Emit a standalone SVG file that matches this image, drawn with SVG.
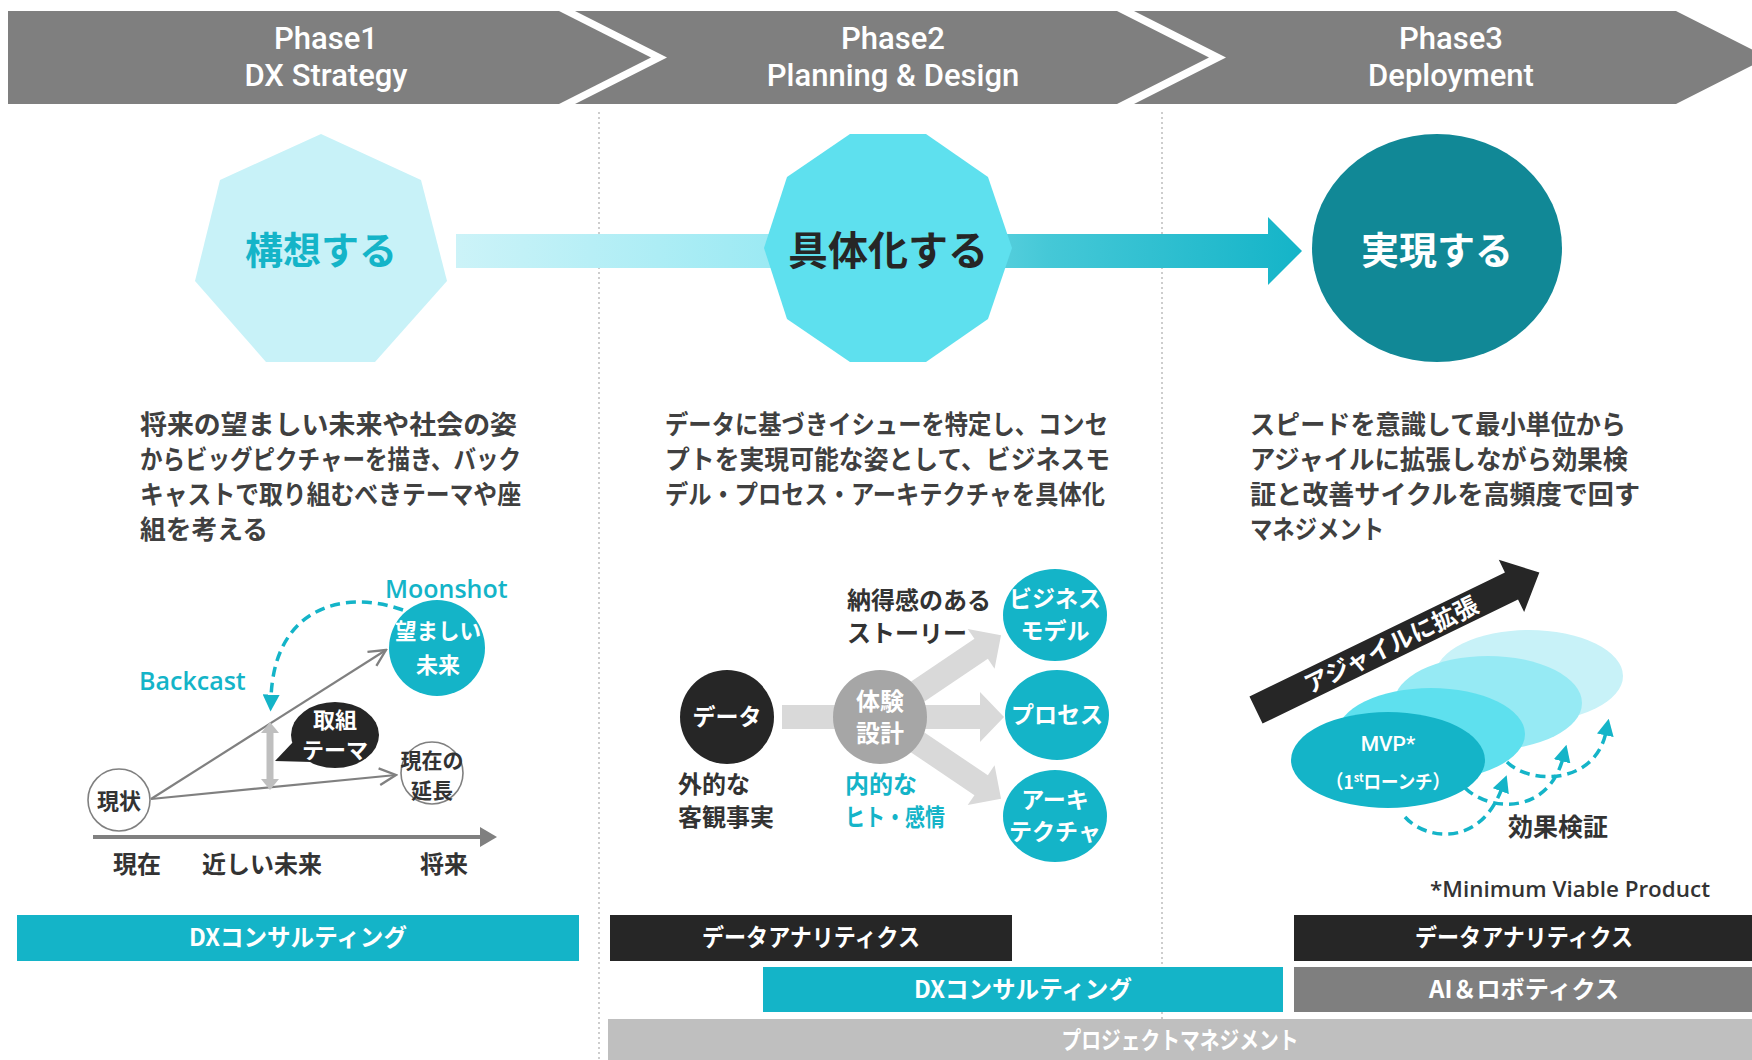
<svg xmlns="http://www.w3.org/2000/svg" width="1752" height="1060" viewBox="0 0 1752 1060">
<defs>
<style>
.hd{font-family:Roboto,"Liberation Sans",sans-serif;font-size:31px;font-weight:500;fill:#fff;text-anchor:middle}
.jp{font-family:"Noto Sans CJK JP",sans-serif;font-weight:bold}
.lat{font-family:"Open Sans","Noto Sans",sans-serif;font-weight:600}
.rb{font-family:Roboto,"Liberation Sans",sans-serif;font-weight:500}
.desc{font-size:26px;fill:#404040}
.dk{fill:#333}
.wt{fill:#fff}
.tl{fill:#14B4C8}
.mid{text-anchor:middle}
.divl{stroke:#BDBDBD;stroke-width:1.5;stroke-dasharray:2 3}
.gline{stroke:#808080;stroke-width:2.2;fill:none}
.dash{stroke:#14B4C8;stroke-width:3.5;fill:none;stroke-dasharray:10 6}
.bar{font-size:24px}
</style>
<linearGradient id="flow" x1="456" y1="0" x2="1302" y2="0" gradientUnits="userSpaceOnUse">
<stop offset="0" stop-color="#CCF3F8"/>
<stop offset="0.4" stop-color="#98E9F3"/>
<stop offset="0.7" stop-color="#45C8D7"/>
<stop offset="1" stop-color="#14B4C8"/>
</linearGradient>
<marker id="vhead" markerUnits="userSpaceOnUse" markerWidth="20" markerHeight="20" viewBox="0 0 12 12" refX="11" refY="6" orient="auto">
<path d="M1,1 L11,6 L1,11" fill="none" stroke="#808080" stroke-width="1.4"/>
</marker>
<marker id="thead" markerUnits="userSpaceOnUse" markerWidth="17" markerHeight="17" viewBox="0 0 10 10" refX="2" refY="5" orient="auto">
<path d="M0,0 L10,5 L0,10 z" fill="#14B4C8"/>
</marker>
</defs>

<rect width="1752" height="1060" fill="#fff"/>

<g id="dividers">
<line class="divl" x1="599" y1="112" x2="599" y2="1060"/>
<line class="divl" x1="1162" y1="112" x2="1162" y2="1060"/>
</g>

<g id="phase1-header">
<polygon points="8,11 559,11 651,57.5 559,104 8,104" fill="#7F7F7F"/>
<text class="hd" x="326" y="49">Phase1</text>
<text class="hd" x="326" y="86">DX Strategy</text>
</g>
<g id="phase2-header">
<polygon points="575,11 1117,11 1209,57.5 1117,104 575,104 667,57.5" fill="#7F7F7F"/>
<text class="hd" x="893" y="49">Phase2</text>
<text class="hd" x="893" y="86">Planning &amp; Design</text>
</g>
<g id="phase3-header">
<polygon points="1134,11 1676,11 1768,57.5 1676,104 1134,104 1226,57.5" fill="#7F7F7F"/>
<text class="hd" x="1451" y="49">Phase3</text>
<text class="hd" x="1451" y="86">Deployment</text>
</g>

<g id="connectors">
<polygon points="456,234 1268,234 1268,217 1302,251 1268,285 1268,268 456,268" fill="url(#flow)"/>
<line x1="93" y1="837" x2="482" y2="837" stroke="#808080" stroke-width="4"/>
<polygon points="480,827 497,837 480,847" fill="#808080"/>
<line class="gline" x1="151" y1="799" x2="386" y2="650" marker-end="url(#vhead)"/>
<line class="gline" x1="151" y1="799" x2="396" y2="775" marker-end="url(#vhead)"/>
<line x1="270" y1="731" x2="270" y2="781" stroke="#BFBFBF" stroke-width="7"/>
<polygon points="261,733 270,722 279,733" fill="#BFBFBF"/>
<polygon points="261,779 270,790 279,779" fill="#BFBFBF"/>
<path class="dash" d="M403,610 C340,588 274,610 271,698" marker-end="url(#thead)"/>
<polygon points="782,705 980,705 980,692 1004,717 980,742 980,729 782,729" fill="#D9D9D9"/>
<polygon transform="translate(880,717) rotate(-34)" points="0,-12 122,-12 122,-24 146,0 122,24 122,12 0,12" fill="#D9D9D9"/>
<polygon transform="translate(880,717) rotate(34)" points="0,-12 122,-12 122,-24 146,0 122,24 122,12 0,12" fill="#D9D9D9"/>
</g>

<g id="node-kousou">
<polygon points="321,134 421,180 447,281 375,362 266,362 195,281 220,180" fill="#C8F2F8"/>
<text class="jp tl mid" x="321" y="264" font-size="38">構想する</text>
</g>
<g id="node-gutaika">
<polygon points="850,134 926,134 988,177 1012,248 988,319 926,362 850,362 787,319 764,248 787,177" fill="#5EE0EE"/>
<text class="jp mid" x="888" y="265" font-size="40" fill="#262626">具体化する</text>
</g>
<g id="node-jitsugen">
<ellipse cx="1437" cy="248" rx="125" ry="114" fill="#118896"/>
<text class="jp wt mid" x="1437" y="264" font-size="38" font-weight="500">実現する</text>
</g>

<g id="desc1" class="jp desc">
<text x="140" y="434" textLength="377" lengthAdjust="spacingAndGlyphs">将来の望ましい未来や社会の姿</text>
<text x="140" y="469" textLength="381" lengthAdjust="spacingAndGlyphs">からビッグピクチャーを描き、バック</text>
<text x="140" y="504" textLength="381" lengthAdjust="spacingAndGlyphs">キャストで取り組むべきテーマや座</text>
<text x="140" y="539" textLength="128" lengthAdjust="spacingAndGlyphs">組を考える</text>
</g>
<g id="desc2" class="jp desc">
<text x="665" y="434" textLength="443" lengthAdjust="spacingAndGlyphs">データに基づきイシューを特定し、コンセ</text>
<text x="665" y="469" textLength="445" lengthAdjust="spacingAndGlyphs">プトを実現可能な姿として、ビジネスモ</text>
<text x="665" y="504" textLength="440" lengthAdjust="spacingAndGlyphs">デル・プロセス・アーキテクチャを具体化</text>
</g>
<g id="desc3" class="jp desc">
<text x="1250" y="434" textLength="376" lengthAdjust="spacingAndGlyphs">スピードを意識して最小単位から</text>
<text x="1250" y="469" textLength="378" lengthAdjust="spacingAndGlyphs">アジャイルに拡張しながら効果検</text>
<text x="1250" y="504" textLength="390" lengthAdjust="spacingAndGlyphs">証と改善サイクルを高頻度で回す</text>
<text x="1250" y="539" textLength="134" lengthAdjust="spacingAndGlyphs">マネジメント</text>
</g>

<g id="node-genjo">
<circle cx="119" cy="800" r="31" fill="#fff" stroke="#808080" stroke-width="1.6"/>
<text class="jp dk mid" x="119" y="809" font-size="22">現状</text>
</g>
<g id="node-nozomashii">
<circle cx="437" cy="648" r="48" fill="#14B4C8"/>
<text class="jp wt mid" x="438" y="639" font-size="22" textLength="86" lengthAdjust="spacingAndGlyphs">望ましい</text>
<text class="jp wt mid" x="438" y="673" font-size="22">未来</text>
</g>
<g id="node-encho">
<circle cx="432" cy="773" r="31" fill="#fff" stroke="#808080" stroke-width="1.6"/>
<text class="jp dk mid" x="432" y="768" font-size="21">現在の</text>
<text class="jp dk mid" x="432" y="798" font-size="21">延長</text>
</g>
<g id="node-torikumi">
<ellipse cx="335" cy="735" rx="44" ry="33" fill="#262626"/>
<polygon points="293,742 275,761 312,762" fill="#262626"/>
<text class="jp wt mid" x="335" y="728" font-size="22">取組</text>
<text class="jp wt mid" x="335" y="758" font-size="22">テーマ</text>
</g>
<g id="labels1">
<text class="lat tl" x="385" y="598" font-size="25">Moonshot</text>
<text class="lat tl" x="139" y="690" font-size="25">Backcast</text>
<text class="jp dk mid" x="137" y="873" font-size="24">現在</text>
<text class="jp dk mid" x="262" y="873" font-size="24">近しい未来</text>
<text class="jp dk mid" x="444" y="873" font-size="24">将来</text>
</g>

<g id="node-data">
<circle cx="727" cy="717" r="47" fill="#262626"/>
<text class="jp wt mid" x="727" y="725" font-size="23">データ</text>
</g>
<g id="node-taiken">
<circle cx="880" cy="717" r="47" fill="#A6A6A6"/>
<text class="jp wt mid" x="880" y="710" font-size="24">体験</text>
<text class="jp wt mid" x="880" y="742" font-size="24">設計</text>
</g>
<g id="node-business">
<ellipse cx="1055" cy="615" rx="52" ry="46" fill="#14B4C8"/>
<text class="jp wt mid" x="1055" y="607" font-size="23">ビジネス</text>
<text class="jp wt mid" x="1055" y="639" font-size="23">モデル</text>
</g>
<g id="node-process">
<ellipse cx="1057" cy="715" rx="52" ry="45" fill="#14B4C8"/>
<text class="jp wt mid" x="1057" y="723" font-size="23">プロセス</text>
</g>
<g id="node-arch">
<ellipse cx="1055" cy="816" rx="52" ry="46" fill="#14B4C8"/>
<text class="jp wt mid" x="1055" y="808" font-size="23">アーキ</text>
<text class="jp wt mid" x="1055" y="840" font-size="23">テクチャ</text>
</g>
<g id="labels2">
<text class="jp dk" x="847" y="609" font-size="24">納得感のある</text>
<text class="jp dk" x="847" y="642" font-size="24">ストーリー</text>
<text class="jp dk" x="678" y="793" font-size="24">外的な</text>
<text class="jp dk" x="678" y="826" font-size="24">客観事実</text>
<text class="jp tl" x="845" y="793" font-size="24">内的な</text>
<text class="jp tl" x="845" y="826" font-size="24" textLength="100" lengthAdjust="spacingAndGlyphs">ヒト・感情</text>
</g>

<g id="node-agile">
<g transform="translate(1256,710) rotate(-25.9)">
<polygon points="0,-15 284,-15 284,-29 315,0 284,29 284,15 0,15" fill="#262626"/>
<text class="jp wt mid" x="150" y="9" font-size="24">アジャイルに拡張</text>
</g>
</g>
<g id="node-iterations">
<ellipse cx="1529" cy="676" rx="94" ry="46" fill="#C8F2F8"/>
<ellipse cx="1488" cy="703" rx="94" ry="47" fill="#96EAF4"/>
<ellipse cx="1431" cy="734" rx="94" ry="46" fill="#5EE0EE"/>
</g>
<g id="node-mvp">
<ellipse cx="1388" cy="760" rx="97" ry="48" fill="#14B4C8"/>
<text class="rb wt mid" x="1388" y="751" font-size="21">MVP*</text>
<text class="jp wt mid" x="1388" y="789" font-size="19" font-weight="500" textLength="124" lengthAdjust="spacingAndGlyphs">（1<tspan font-size="12" baseline-shift="7">st</tspan>ローンチ）</text>
</g>
<g id="connectors-loop">
<path class="dash" d="M1405,817 C1425,840 1480,848 1502,788" marker-end="url(#thead)"/>
<path class="dash" d="M1465,788 C1490,812 1548,815 1563,758" marker-end="url(#thead)"/>
<path class="dash" d="M1507,762 C1530,785 1595,785 1606,732" marker-end="url(#thead)"/>
</g>
<g id="labels3">
<text class="jp dk" x="1508" y="836" font-size="25">効果検証</text>
<text class="lat dk" x="1430" y="897" font-size="22" textLength="280" lengthAdjust="spacingAndGlyphs">*Minimum Viable Product</text>
</g>

<g id="bars" class="jp bar">
<rect x="17" y="915" width="562" height="46" fill="#14B4C8"/>
<text class="wt mid" x="298" y="946" textLength="218" lengthAdjust="spacingAndGlyphs">DXコンサルティング</text>
<rect x="610" y="915" width="402" height="46" fill="#262626"/>
<text class="wt mid" x="811" y="946" textLength="218" lengthAdjust="spacingAndGlyphs">データアナリティクス</text>
<rect x="763" y="967" width="520" height="45" fill="#14B4C8"/>
<text class="wt mid" x="1023" y="998" textLength="218" lengthAdjust="spacingAndGlyphs">DXコンサルティング</text>
<rect x="608" y="1019" width="1144" height="41" fill="#BFBFBF"/>
<text class="wt mid" x="1180" y="1049" textLength="237" lengthAdjust="spacingAndGlyphs">プロジェクトマネジメント</text>
<rect x="1294" y="915" width="458" height="46" fill="#262626"/>
<text class="wt mid" x="1524" y="946" textLength="218" lengthAdjust="spacingAndGlyphs">データアナリティクス</text>
<rect x="1294" y="967" width="458" height="45" fill="#7F7F7F"/>
<text class="wt mid" x="1524" y="998" textLength="190" lengthAdjust="spacingAndGlyphs">AI＆ロボティクス</text>
</g>
</svg>
